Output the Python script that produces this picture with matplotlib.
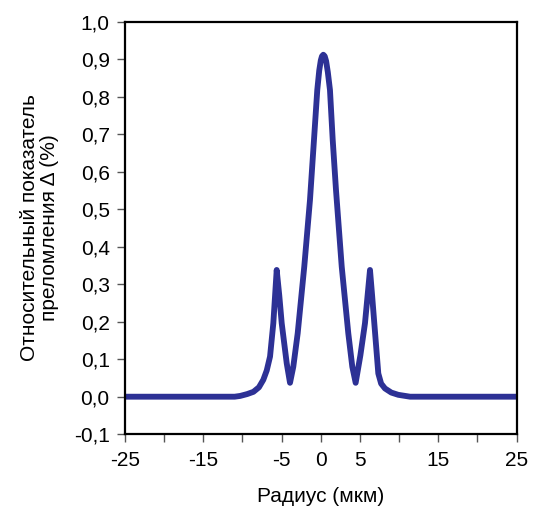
#!/usr/bin/env python3

import matplotlib
matplotlib.use('Agg')
import matplotlib.pyplot as plt

# Profile: radius (um) and relative index delta (%)
radius = [-25, -11.0, -10.3, -9.4, -8.6, -7.9, -7.34, -6.9, -6.48, -6.06, -5.63,
          -5.3, -4.99, -4.35, -3.93, -3.51, -2.95, -2.11, -1.38, -0.87, -0.45,
          -0.2, 0.0, 0.15, 0.32, 0.5, 0.68, 0.9, 1.17, 1.52, 1.94, 2.67, 3.51,
          4.02, 4.45, 5.05, 5.64, 6.28, 6.55, 6.83, 7.34, 7.7, 8.19, 9.0, 9.89,
          11.4, 25]
delta = [0.0, 0.0, 0.002, 0.007, 0.013, 0.025, 0.045, 0.07, 0.107, 0.196, 0.338,
         0.27, 0.196, 0.089, 0.037, 0.08, 0.169, 0.347, 0.525, 0.685, 0.818,
         0.87, 0.897, 0.908, 0.912, 0.908, 0.895, 0.865, 0.818, 0.685, 0.551,
         0.347, 0.169, 0.08, 0.037, 0.11, 0.196, 0.338, 0.27, 0.196, 0.062,
         0.035, 0.022, 0.011, 0.005, 0.0, 0.0]

x_ticks = [-25, -20, -15, -10, -5, 0, 5, 10, 15, 20, 25]
x_labels = ['-25', '', '-15', '', '-5', '0', '5', '', '15', '', '25']
y_ticks = [-0.1, 0.0, 0.1, 0.2, 0.3, 0.4, 0.5, 0.6, 0.7, 0.8, 0.9, 1.0]

plt.rcParams['font.family'] = ['Liberation Sans', 'DejaVu Sans']

fig = plt.figure(figsize=(5.34, 5.11), dpi=100)
ax = fig.add_axes([0.234, 0.1503, 0.7335, 0.8072])

ax.plot(radius, delta, color='#2d3195', linewidth=4.2, solid_joinstyle='round',
        solid_capstyle='butt')

ax.set_xlim(-25, 25)
ax.set_ylim(-0.1, 1.0)
ax.set_xticks(x_ticks)
ax.set_xticklabels(x_labels)
ax.set_yticks(y_ticks)
ax.set_yticklabels([f'{v:.1f}'.replace('.', ',') for v in y_ticks])

for s in ax.spines.values():
    s.set_linewidth(1.6)
    s.set_color('black')
ax.tick_params(direction='out', length=6, width=1.0, labelsize=15, color='#555555')
ax.tick_params(axis='x', pad=6)
ax.tick_params(axis='y', pad=5)

ax.set_xlabel('Радиус (мкм)', fontsize=15, labelpad=12)
ax.set_ylabel('Относительный показатель\nпреломления Δ (%)', fontsize=15,
              labelpad=11, linespacing=1.05)

fig.savefig('out.png', dpi=100)
